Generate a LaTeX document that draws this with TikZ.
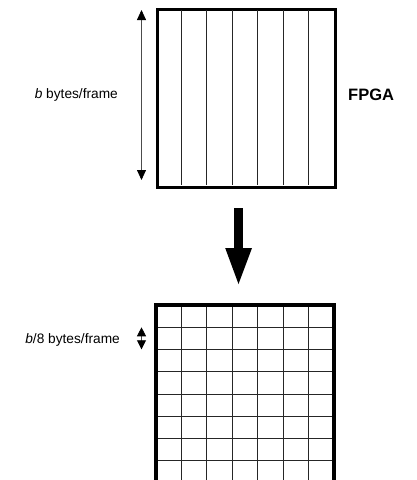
\documentclass[tikz,border=0pt]{standalone}
\usepackage{fontspec}
\setmainfont{Liberation Sans}
\usetikzlibrary{arrows.meta,calc}
\begin{document}
\begin{tikzpicture}[x=1pt,y=-1pt,
  frame/.style={line width=3.2pt},
  grid line/.style={line width=0.9pt, black!85},
  label text/.style={font=\fontsize{13.7}{16}\selectfont, inner sep=0pt},
  dim arrow/.style={line width=0.8pt, black!70, {Triangle[width=9pt,length=10pt,black]}-{Triangle[width=9pt,length=10pt,black]}}
]
\useasboundingbox (0,0) rectangle (416,480);
% top box
\node[draw, frame, minimum width=178pt, minimum height=178pt, inner sep=0pt, anchor=north west] (top) at (156,8) {};
\foreach \i in {1,...,6} {
  \draw[grid line] ($(156,8)+(\i*25.43,1.5)$) -- ($(156,186)+(\i*25.43,-1.5)$);
}
% labels
\node[label text, anchor=east] (blab) at (118,95) {\textit{b} bytes/frame};
\node[label text, anchor=west, font=\fontsize{16.5}{19}\selectfont\bfseries] (fpga) at (348,95) {FPGA};
\coordinate (dtop) at (141.5,10);
\coordinate (dbot) at (141.5,180);
\draw[dim arrow] (dtop) -- (dbot);
% big arrow
\coordinate (bigA) at (238.5,208);
\fill (bigA) ++(-4.3,0) -- ++(0,40) -- ++(-9,0) -- (238.5,284) -- (252,248) -- ++(-9.2,0) -- ++(0,-40) -- cycle;
% bottom box
\coordinate (bl) at (156,484);
\coordinate (tl) at (156,305);
\coordinate (tr) at (334,305);
\coordinate (br) at (334,484);
\foreach \i in {1,...,6} {
  \draw[grid line] ($(156,305)+(\i*25.43,0)$) -- ($(156,484)+(\i*25.43,0)$);
}
\foreach \j in {1,...,7} {
  \draw[grid line] ($(156,305)+(0,\j*22.25)$) -- ($(334,305)+(0,\j*22.25)$);
}
\draw[frame, line join=miter] (bl) -- (tl) -- (tr) -- (br);
\node[label text, anchor=east] (b8lab) at (120,340) {\textit{b}/8 bytes/frame};
\coordinate (stop) at (141.5,327.3);
\coordinate (sbot) at (141.5,349.3);
\draw[line width=0.8pt, black!70, {Triangle[width=9pt,length=9pt,black]}-{Triangle[width=9pt,length=9pt,black]}] (stop) -- (sbot);
\end{tikzpicture}
\end{document}
